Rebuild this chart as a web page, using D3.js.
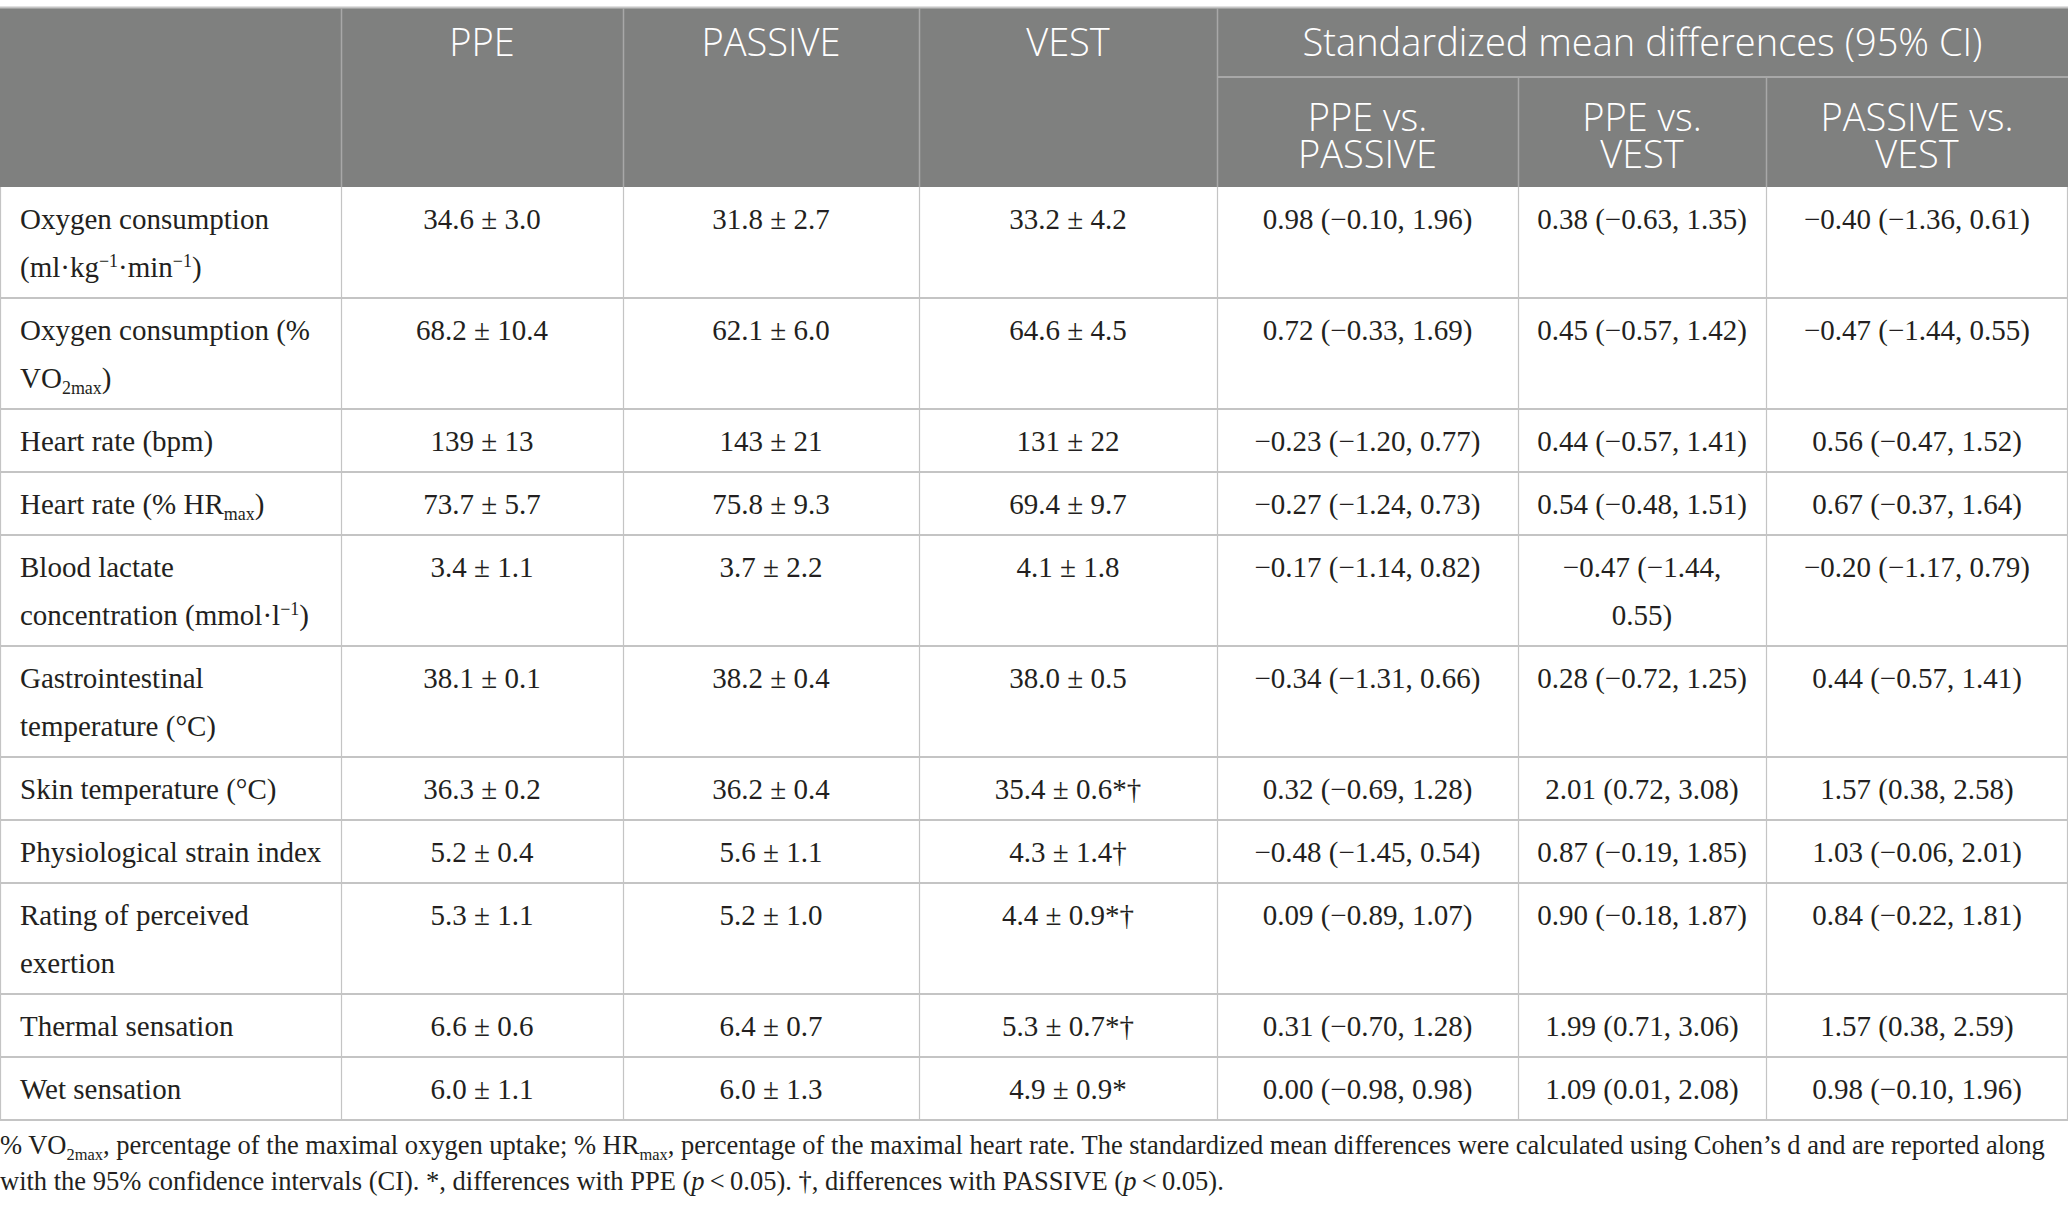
<!DOCTYPE html>
<html lang="en">
<head>
<meta charset="UTF-8">
<title>Cooling strategies table</title>
<script src="https://d3js.org/d3.v7.min.js"></script>
<style>
  body { margin: 0; background: #fff; }
  svg { display: block; }
</style>
</head>
<body>
<div id="table"></div>
<script>
// ^{..} superscript, _{..} subscript, /{..} italic
const measures = [
  "Oxygen consumption (ml·kg^{−1}·min^{−1})",
  "Oxygen consumption (% VO_{2max})",
  "Heart rate (bpm)",
  "Heart rate (% HR_{max})",
  "Blood lactate concentration (mmol·l^{−1})",
  "Gastrointestinal temperature (°C)",
  "Skin temperature (°C)",
  "Physiological strain index",
  "Rating of perceived exertion",
  "Thermal sensation",
  "Wet sensation"
];
const ppe = ["34.6 ± 3.0", "68.2 ± 10.4", "139 ± 13", "73.7 ± 5.7", "3.4 ± 1.1", "38.1 ± 0.1",
  "36.3 ± 0.2", "5.2 ± 0.4", "5.3 ± 1.1", "6.6 ± 0.6", "6.0 ± 1.1"];
const passive = ["31.8 ± 2.7", "62.1 ± 6.0", "143 ± 21", "75.8 ± 9.3", "3.7 ± 2.2", "38.2 ± 0.4",
  "36.2 ± 0.4", "5.6 ± 1.1", "5.2 ± 1.0", "6.4 ± 0.7", "6.0 ± 1.3"];
const vest = ["33.2 ± 4.2", "64.6 ± 4.5", "131 ± 22", "69.4 ± 9.7", "4.1 ± 1.8", "38.0 ± 0.5",
  "35.4 ± 0.6*†", "4.3 ± 1.4†", "4.4 ± 0.9*†", "5.3 ± 0.7*†", "4.9 ± 0.9*"];
const smdPpePassive = ["0.98 (−0.10, 1.96)", "0.72 (−0.33, 1.69)", "−0.23 (−1.20, 0.77)", "−0.27 (−1.24, 0.73)",
  "−0.17 (−1.14, 0.82)", "−0.34 (−1.31, 0.66)", "0.32 (−0.69, 1.28)", "−0.48 (−1.45, 0.54)",
  "0.09 (−0.89, 1.07)", "0.31 (−0.70, 1.28)", "0.00 (−0.98, 0.98)"];
const smdPpeVest = ["0.38 (−0.63, 1.35)", "0.45 (−0.57, 1.42)", "0.44 (−0.57, 1.41)", "0.54 (−0.48, 1.51)",
  "−0.47 (−1.44, 0.55)", "0.28 (−0.72, 1.25)", "2.01 (0.72, 3.08)", "0.87 (−0.19, 1.85)",
  "0.90 (−0.18, 1.87)", "1.99 (0.71, 3.06)", "1.09 (0.01, 2.08)"];
const smdPassiveVest = ["−0.40 (−1.36, 0.61)", "−0.47 (−1.44, 0.55)", "0.56 (−0.47, 1.52)", "0.67 (−0.37, 1.64)",
  "−0.20 (−1.17, 0.79)", "0.44 (−0.57, 1.41)", "1.57 (0.38, 2.58)", "1.03 (−0.06, 2.01)",
  "0.84 (−0.22, 1.81)", "1.57 (0.38, 2.59)", "0.98 (−0.10, 1.96)"];
const groupHeaders = ["PPE", "PASSIVE", "VEST"];
const smdTitle = "Standardized mean differences (95% CI)";
const smdHeaders = ["PPE vs. PASSIVE", "PPE vs. VEST", "PASSIVE vs. VEST"];
const footnote = [
  "% VO_{2max}, percentage of the maximal oxygen uptake; % HR_{max}, percentage of the maximal heart rate. The standardized mean differences were calculated using Cohen’s d and are reported along",
  "with the 95% confidence intervals (CI). *, differences with PPE (/{p}\u2009<\u20090.05). †, differences with PASSIVE (/{p}\u2009<\u20090.05)."
];

const width = 2068, height = 1213;
const serif = "'Liberation Serif', 'Times New Roman', serif";
const sans = "'Open Sans', 'Noto Sans', sans-serif";
const bodySize = 29, headSize = 38, noteSize = 26.5;
const lineH = 48, headLineH = 37;
const headTop = 8, headMid = 77, headBottom = 187;
const headFill = "#7f807f", gridColor = "#c4c4c4", headGrid = "#a8a8a8";

const colKeys = ["label", "ppe", "passive", "vest", "d1", "d2", "d3"];
const colW = [341, 282, 296, 298, 301, 248, 302];
const edges = [0, ...d3.cumsum(colW)];
const xLeft = d3.scaleOrdinal().domain(colKeys).range(edges);
const xRight = d3.scaleOrdinal().domain(colKeys).range(edges.slice(1));
const xMid = k => (xLeft(k) + xRight(k)) / 2;

const columns = [measures, ppe, passive, vest, smdPpePassive, smdPpeVest, smdPassiveVest];

// ---- rich text helpers ----
const ctx = document.createElement("canvas").getContext("2d");

function parse(str) {
  const segs = [];
  const re = /([\^_\/])\{([^}]*)\}/g;
  let last = 0, m;
  while ((m = re.exec(str)) !== null) {
    if (m.index > last) segs.push({ kind: "n", text: str.slice(last, m.index) });
    segs.push({ kind: m[1] === "^" ? "sup" : m[1] === "_" ? "sub" : "it", text: m[2] });
    last = re.lastIndex;
  }
  if (last < str.length) segs.push({ kind: "n", text: str.slice(last) });
  return segs;
}

function segFont(seg, size, family, weight) {
  const s = (seg.kind === "sup" || seg.kind === "sub") ? size * 0.62 : size;
  return `${seg.kind === "it" ? "italic " : ""}${weight || 400} ${s}px ${family}`;
}

function measure(segs, size, family, weight) {
  return d3.sum(segs, s => { ctx.font = segFont(s, size, family, weight); return ctx.measureText(s.text).width; });
}

// split into words (arrays of segments), breaking on spaces of normal text
function words(segs) {
  const out = [[]];
  segs.forEach(s => {
    if (s.kind !== "n") { out[out.length - 1].push(s); return; }
    s.text.split(" ").forEach((part, i) => {
      if (i > 0) out.push([]);
      if (part) out[out.length - 1].push({ kind: "n", text: part });
    });
  });
  return out.filter(w => w.length);
}

function wrap(str, maxW, size, family, weight) {
  const ws = words(parse(str));
  const lines = [];
  let cur = [];
  ws.forEach(w => {
    const trial = cur.length ? [...cur, { kind: "n", text: " " }, ...w] : w;
    if (cur.length && measure(trial, size, family, weight) > maxW) {
      lines.push(cur);
      cur = w;
    } else cur = trial;
  });
  if (cur.length) lines.push(cur);
  return lines;
}

function drawLine(g, segs, x, y, anchor, size, family, fill) {
  const t = g.append("text")
    .attr("x", x).attr("y", y)
    .attr("text-anchor", anchor)
    .attr("font-family", family)
    .attr("font-size", size)
    .attr("fill", fill);
  let shift = 0;
  segs.forEach(s => {
    let target = 0;
    if (s.kind === "sup") target = -0.36 * size;
    if (s.kind === "sub") target = 0.22 * size;
    const ts = t.append("tspan").text(s.text)
      .attr("font-size", (s.kind === "sup" || s.kind === "sub") ? size * 0.62 : size)
      .attr("dy", target - shift);
    if (s.kind === "it") ts.attr("font-style", "italic");
    shift = target;
  });
  return t;
}

// ---- layout of body rows ----
const cellLines = columns.map((col, ci) => col.map(v =>
  wrap(v, colW[ci] - 36, bodySize, serif)));
const rowLines = measures.map((_, ri) => d3.max(cellLines, c => c[ri].length));
const rowH = rowLines.map(n => 15 + lineH * n);
const rowTop = [headBottom, ...d3.cumsum(rowH).map(v => v + headBottom)];
const y = d3.scaleOrdinal().domain(d3.range(measures.length + 1)).range(rowTop);

const svg = d3.select("#table").append("svg")
  .attr("width", width).attr("height", height);

// ---- header ----
const head = svg.append("g");
head.append("rect")
  .attr("x", 0).attr("y", headTop)
  .attr("width", width).attr("height", headBottom - headTop)
  .attr("fill", headFill);
head.append("line")
  .attr("x1", 0).attr("x2", width).attr("y1", headTop - 0.5).attr("y2", headTop - 0.5)
  .attr("stroke", gridColor).attr("stroke-width", 2);
// vertical header dividers
head.selectAll(".hv").data(["ppe", "passive", "vest", "d1"]).join("line")
  .attr("x1", d => xLeft(d) + 0.5).attr("x2", d => xLeft(d) + 0.5)
  .attr("y1", headTop).attr("y2", headBottom)
  .attr("stroke", headGrid).attr("stroke-width", 1.5);
head.selectAll(".hs").data(["d2", "d3"]).join("line")
  .attr("x1", d => xLeft(d) + 0.5).attr("x2", d => xLeft(d) + 0.5)
  .attr("y1", headMid).attr("y2", headBottom)
  .attr("stroke", headGrid).attr("stroke-width", 1.5);
head.append("line")
  .attr("x1", xLeft("d1")).attr("x2", width).attr("y1", headMid).attr("y2", headMid)
  .attr("stroke", headGrid).attr("stroke-width", 2);

const headFont = sans;
groupHeaders.forEach((h, i) => {
  const k = colKeys[i + 1];
  drawLine(head, parse(h), xMid(k), headTop + 48, "middle", headSize, headFont, "#fff");
});
drawLine(head, parse(smdTitle), (xLeft("d1") + width) / 2, headTop + 48, "middle", headSize, headFont, "#fff");
smdHeaders.forEach((h, i) => {
  const k = colKeys[i + 4];
  const lines = wrap(h, colW[i + 4] * 0.74, headSize, headFont, 300);
  lines.forEach((l, li) => drawLine(head, l, xMid(k), headMid + 54 + li * headLineH, "middle", headSize, headFont, "#fff"));
});
head.selectAll("text").attr("font-weight", 300);

// ---- body ----
const body = svg.append("g");
body.selectAll(".rowline").data(d3.range(1, measures.length + 1)).join("line")
  .attr("x1", 0).attr("x2", width)
  .attr("y1", d => y(d)).attr("y2", d => y(d))
  .attr("stroke", gridColor).attr("stroke-width", 2);
body.selectAll(".colline").data(colKeys.slice(1)).join("line")
  .attr("x1", d => xLeft(d) + 0.5).attr("x2", d => xLeft(d) + 0.5)
  .attr("y1", headBottom).attr("y2", y(measures.length))
  .attr("stroke", gridColor).attr("stroke-width", 1.2);
[0.5, width - 0.5].forEach(xx => body.append("line")
  .attr("x1", xx).attr("x2", xx).attr("y1", headBottom).attr("y2", y(measures.length))
  .attr("stroke", gridColor).attr("stroke-width", 1.2));

cellLines.forEach((col, ci) => {
  const k = colKeys[ci];
  col.forEach((lines, ri) => {
    lines.forEach((l, li) => {
      const yy = y(ri) + 42 + li * lineH;
      if (ci === 0) drawLine(body, l, xLeft(k) + 20, yy, "start", bodySize, serif, "#231f20");
      else drawLine(body, l, xMid(k), yy, "middle", bodySize, serif, "#231f20");
    });
  });
});

// ---- footnote ----
const note = svg.append("g");
footnote.forEach((f, i) => {
  drawLine(note, parse(f), 0, y(measures.length) + 34 + i * 36, "start", noteSize, serif, "#231f20");
});
</script>
</body>
</html>
